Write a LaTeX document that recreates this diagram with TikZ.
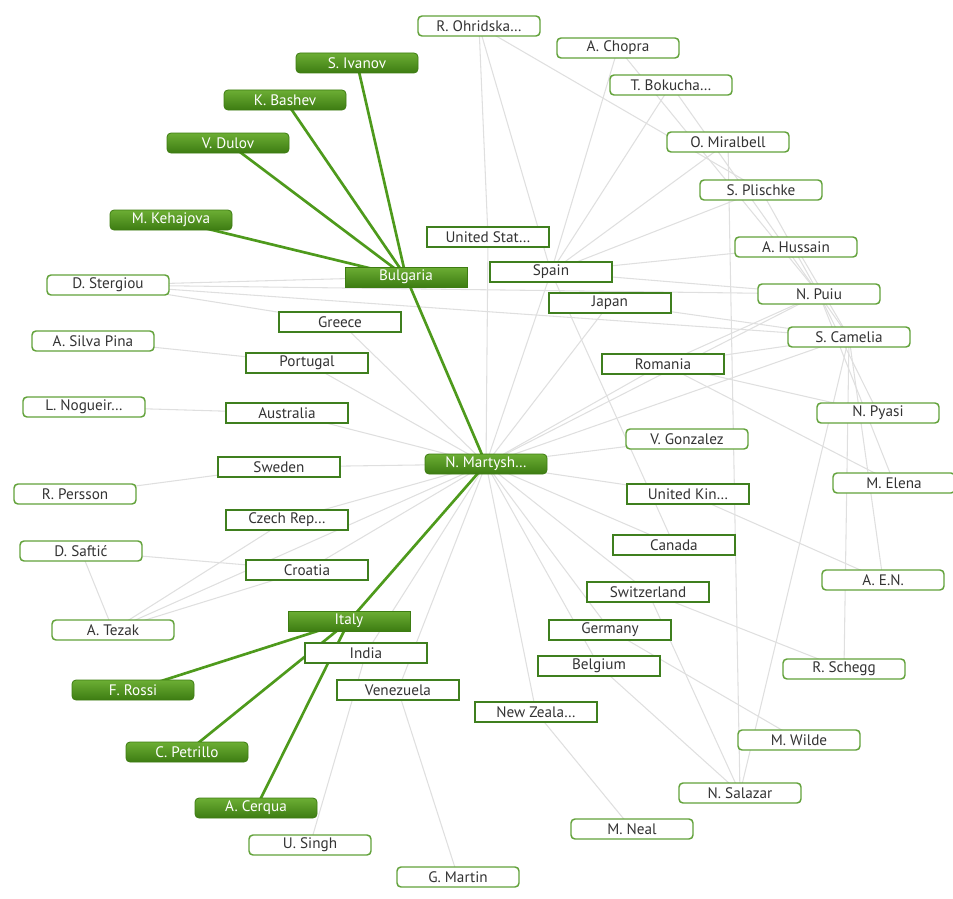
\documentclass[tikz,border=0pt]{standalone}
\usepackage{fontspec}
\setmainfont{PT Sans}
\usetikzlibrary{backgrounds}
\definecolor{edgegray}{HTML}{DFDFDF}
\definecolor{linkgreen}{HTML}{4E9A1C}
\definecolor{framegreen}{HTML}{62A23A}
\definecolor{darkframe}{HTML}{3F7F1E}
\definecolor{fillTop}{HTML}{6CAE34}
\definecolor{fillBot}{HTML}{3D7C12}
\definecolor{labelgray}{HTML}{333333}

\begin{document}
\begin{tikzpicture}[x=0.75pt,y=-0.75pt,
  box/.style={minimum width=91.5pt, minimum height=15pt, inner sep=0pt,
    font=\fontsize{11.4}{12}\selectfont},
  person/.style={box, draw=framegreen, line width=1.1pt, rounded corners=3pt,
    fill=white, text=labelgray},
  country/.style={box, draw=darkframe, line width=1pt, fill=white, text=labelgray},
  hiperson/.style={box, rounded corners=3pt, draw=fillBot, line width=0.6pt,
    top color=fillTop, bottom color=fillBot, text=white},
  hicountry/.style={box, draw=fillBot, line width=0.6pt,
    top color=fillTop, bottom color=fillBot, text=white},
  faint/.style={draw=edgegray, line width=0.8pt},
  strong/.style={draw=linkgreen, line width=2pt}]

\useasboundingbox (0,0) rectangle (953,899);

% people
\node[person] (ohr) at (479,26)  {R. Ohridska\dots};
\node[person] (cho) at (618,48)  {A. Chopra};
\node[person] (bok) at (671,85)  {T. Bokucha\dots};
\node[person] (mir) at (728,142) {O. Miralbell};
\node[person] (pli) at (761,190) {S. Plischke};
\node[person] (hus) at (796,247) {A. Hussain};
\node[person] (pui) at (819,294) {N. Puiu};
\node[person] (cam) at (849,337) {S. Camelia};
\node[person] (pya) at (878,413) {N. Pyasi};
\node[person] (ele) at (894,483) {M. Elena};
\node[person] (aen) at (883,580) {A. E.N.};
\node[person] (sch) at (844,669) {R. Schegg};
\node[person] (wil) at (799,740) {M. Wilde};
\node[person] (sal) at (740,793) {N. Salazar};
\node[person] (nea) at (632,829) {M. Neal};
\node[person] (gma) at (458,877) {G. Martin};
\node[person] (sin) at (310,845) {U. Singh};
\node[person] (tez) at (113,630) {A. Tezak};
\node[person] (saf) at (81,551)  {D. Saftić};
\node[person] (per) at (75,494)  {R. Persson};
\node[person] (nog) at (84,407)  {L. Nogueir\dots};
\node[person] (sil) at (93,341)  {A. Silva Pina};
\node[person] (ste) at (108,285) {D. Stergiou};
\node[person] (gon) at (687,439) {V. Gonzalez};

% highlighted people
\node[hiperson] (iva) at (357,63)  {S. Ivanov};
\node[hiperson] (bas) at (285,100) {K. Bashev};
\node[hiperson] (dul) at (228,143) {V. Dulov};
\node[hiperson] (keh) at (171,220) {M. Kehajova};
\node[hiperson] (mty) at (486,464) {N. Martysh\dots};
\node[hiperson] (ros) at (133,690) {F. Rossi};
\node[hiperson] (pet) at (187,752) {C. Petrillo};
\node[hiperson] (cer) at (256,808) {A. Cerqua};

% countries
\node[hicountry] (bul) at (406,277) {Bulgaria};
\node[hicountry] (ita) at (349,621) {Italy};
\node[country] (usa) at (488,237) {United Stat\dots};
\node[country] (spa) at (551,272) {Spain};
\node[country] (jap) at (610,303) {Japan};
\node[country] (gre) at (340,322) {Greece};
\node[country] (por) at (307,363) {Portugal};
\node[country] (aus) at (287,413) {Australia};
\node[country] (rom) at (663,364) {Romania};
\node[country] (swe) at (279,467) {Sweden};
\node[country] (uk)  at (688,494) {United Kin\dots};
\node[country] (cze) at (287,520) {Czech Rep\dots};
\node[country] (can) at (674,545) {Canada};
\node[country] (cro) at (307,570) {Croatia};
\node[country] (swi) at (648,592) {Switzerland};
\node[country] (ger) at (610,630) {Germany};
\node[country] (ind) at (366,653) {India};
\node[country] (bel) at (599,666) {Belgium};
\node[country] (ven) at (398,690) {Venezuela};
\node[country] (nz)  at (536,712) {New Zeala\dots};

\begin{scope}[on background layer]
  % faint links
  \foreach \c in {usa,spa,jap,rom,gre,por,aus,swe,cze,cro,uk,can,swi,ger,bel,ind,ven,nz,gon,tez,pui,cam}
    \draw[faint] (mty.center) -- (\c.center);
  \draw[faint] (ste.center) -- (bul.center);
  \draw[faint] (ste.center) -- (gre.center);
  \draw[faint] (ste.center) -- (pui.center);
  \draw[faint] (ste.center) -- (cam.center);
  \draw[faint] (sil.center) -- (por.center);
  \draw[faint] (nog.center) -- (aus.center);
  \draw[faint] (per.center) -- (swe.center);
  \draw[faint] (saf.center) -- (cro.center);
  \draw[faint] (saf.center) -- (tez.center);
  \draw[faint] (tez.center) -- (cro.center);
  \draw[faint] (tez.center) -- (cze.center);
  \draw[faint] (sin.center) -- (ind.center);
  \draw[faint] (gma.center) -- (ven.center);
  \draw[faint] (nea.center) -- (nz.center);
  \draw[faint] (sal.center) -- (bel.center);
  \draw[faint] (sal.center) -- (swi.center);
  \draw[faint] (sal.center) -- (mir.center);
  \draw[faint] (sal.center) -- (cam.center);
  \draw[faint] (wil.center) -- (ger.center);
  \draw[faint] (sch.center) -- (swi.center);
  \draw[faint] (sch.center) -- (cam.center);
  \draw[faint] (aen.center) -- (uk.center);
  \draw[faint] (aen.center) -- (cam.center);
  \draw[faint] (ele.center) -- (rom.center);
  \draw[faint] (ele.center) -- (pui.center);
  \draw[faint] (pya.center) -- (rom.center);
  \draw[faint] (pya.center) -- (pui.center);
  \draw[faint] (cam.center) -- (rom.center);
  \draw[faint] (cam.center) -- (jap.center);
  \draw[faint] (pui.center) -- (rom.center);
  \draw[faint] (pui.center) -- (spa.center);
  \draw[faint] (hus.center) -- (spa.center);
  \draw[faint] (hus.center) -- (cam.center);
  \draw[faint] (pli.center) -- (spa.center);
  \draw[faint] (pli.center) -- (pui.center);
  \draw[faint] (mir.center) -- (spa.center);
  \draw[faint] (bok.center) -- (spa.center);
  \draw[faint] (bok.center) -- (cam.center);
  \draw[faint] (cho.center) -- (spa.center);
  \draw[faint] (cho.center) -- (pui.center);
  \draw[faint] (ohr.center) -- (spa.center);
  \draw[faint] (ohr.center) -- (usa.center);
  \draw[faint] (ohr.center) -- (pli.center);
  \draw[faint] (spa.center) -- (can.center);
  % strong links
  \draw[strong] (iva.center) -- (bul.center);
  \draw[strong] (bas.center) -- (bul.center);
  \draw[strong] (dul.center) -- (bul.center);
  \draw[strong] (keh.center) -- (bul.center);
  \draw[strong] (bul.center) -- (mty.center);
  \draw[strong] (mty.center) -- (ita.center);
  \draw[strong] (ita.center) -- (ros.center);
  \draw[strong] (ita.center) -- (pet.center);
  \draw[strong] (ita.center) -- (cer.center);
\end{scope}
\end{tikzpicture}
\end{document}
